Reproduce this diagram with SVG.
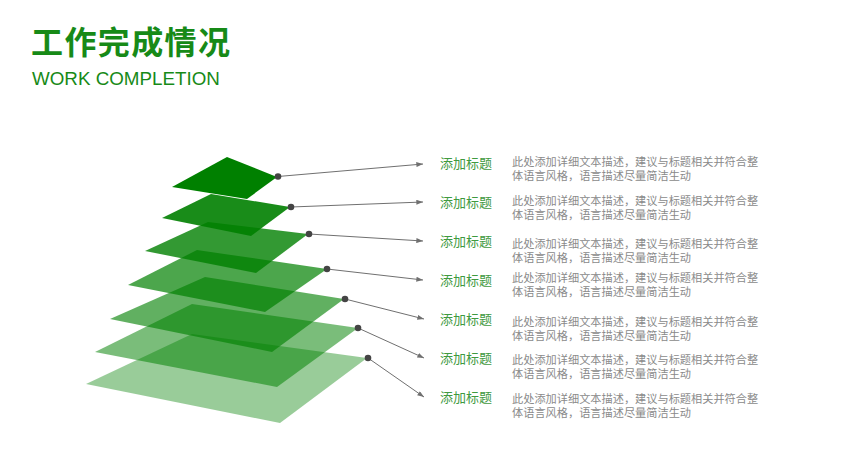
<svg xmlns="http://www.w3.org/2000/svg" width="846" height="476" viewBox="0 0 846 476">
<defs>
<style>
.layer{fill:#008000}
.dot{fill:#444444}
.conn{stroke:#707070;stroke-width:1;fill:none;marker-end:url(#arr)}
.lbl{font-family:"Noto Sans CJK SC","Liberation Sans",sans-serif;font-size:13px;fill:#3f9a3f}
.desc{font-family:"Liberation Sans","Noto Sans CJK SC",sans-serif;font-size:11.2px;fill:#8a8a8a}
</style>
<marker id="arr" viewBox="0 0 8 6" refX="8" refY="3" markerWidth="7" markerHeight="5" markerUnits="userSpaceOnUse" orient="auto">
<path d="M0,0 L8,3 L0,6 z" fill="#707070"/>
</marker>
</defs>
<rect width="846" height="476" fill="#ffffff"/>
<g id="title">
<text x="31" y="54" font-family="'Noto Sans CJK SC',sans-serif" font-weight="bold" font-size="32" letter-spacing="1.4" fill="#178a17">工作完成情况</text>
<text x="32" y="85" font-family="'Liberation Sans',sans-serif" font-size="18.8" fill="#178a17">WORK COMPLETION</text>
</g>
<g id="layers">
<polygon id="layer7" class="layer" fill-opacity="0.4" points="86,384 192,334 367,358 280,423"/>
<polygon id="layer6" class="layer" fill-opacity="0.52" points="95,352 192,304 358,328 277,387"/>
<polygon id="layer5" class="layer" fill-opacity="0.62" points="110,319 205,277 344,299 272,352"/>
<polygon id="layer4" class="layer" fill-opacity="0.7" points="128,285 197,250 327,269 265,312"/>
<polygon id="layer3" class="layer" fill-opacity="0.8" points="145,251 208,222 308,234 256,273"/>
<polygon id="layer2" class="layer" fill-opacity="0.9" points="162,218 211,194 290,207 251,236"/>
<polygon id="layer1" class="layer" points="172,187 227,157 277,177 247,199"/>
</g>
<g id="connectors">
<line class="conn" x1="278" y1="176.5" x2="423" y2="164"/>
<line class="conn" x1="291" y1="207" x2="423" y2="202"/>
<line class="conn" x1="309" y1="234" x2="423" y2="241"/>
<line class="conn" x1="327" y1="269" x2="423" y2="280"/>
<line class="conn" x1="345" y1="299" x2="424" y2="319"/>
<line class="conn" x1="358" y1="328" x2="424" y2="358"/>
<line class="conn" x1="368" y1="358" x2="424" y2="397"/>
<circle class="dot" cx="278" cy="176.5" r="3.3"/>
<circle class="dot" cx="291" cy="207" r="3.3"/>
<circle class="dot" cx="309" cy="234" r="3.3"/>
<circle class="dot" cx="327" cy="269" r="3.3"/>
<circle class="dot" cx="345" cy="299" r="3.3"/>
<circle class="dot" cx="358" cy="328" r="3.3"/>
<circle class="dot" cx="368" cy="358" r="3.3"/>
</g>
<g id="item1"><text class="lbl" x="440" y="168">添加标题</text><text class="desc"><tspan x="512" y="166">此处添加详细文本描述，建议与标题相关并符合整</tspan><tspan x="512" y="180">体语言风格，语言描述尽量简洁生动</tspan></text></g>
<g id="item2"><text class="lbl" x="440" y="207">添加标题</text><text class="desc"><tspan x="512" y="205">此处添加详细文本描述，建议与标题相关并符合整</tspan><tspan x="512" y="219">体语言风格，语言描述尽量简洁生动</tspan></text></g>
<g id="item3"><text class="lbl" x="440" y="246">添加标题</text><text class="desc"><tspan x="512" y="248">此处添加详细文本描述，建议与标题相关并符合整</tspan><tspan x="512" y="262">体语言风格，语言描述尽量简洁生动</tspan></text></g>
<g id="item4"><text class="lbl" x="440" y="285">添加标题</text><text class="desc"><tspan x="512" y="282">此处添加详细文本描述，建议与标题相关并符合整</tspan><tspan x="512" y="296">体语言风格，语言描述尽量简洁生动</tspan></text></g>
<g id="item5"><text class="lbl" x="440" y="324">添加标题</text><text class="desc"><tspan x="512" y="326">此处添加详细文本描述，建议与标题相关并符合整</tspan><tspan x="512" y="340">体语言风格，语言描述尽量简洁生动</tspan></text></g>
<g id="item6"><text class="lbl" x="440" y="363">添加标题</text><text class="desc"><tspan x="512" y="364">此处添加详细文本描述，建议与标题相关并符合整</tspan><tspan x="512" y="378">体语言风格，语言描述尽量简洁生动</tspan></text></g>
<g id="item7"><text class="lbl" x="440" y="402">添加标题</text><text class="desc"><tspan x="512" y="403">此处添加详细文本描述，建议与标题相关并符合整</tspan><tspan x="512" y="417">体语言风格，语言描述尽量简洁生动</tspan></text></g>
</svg>
